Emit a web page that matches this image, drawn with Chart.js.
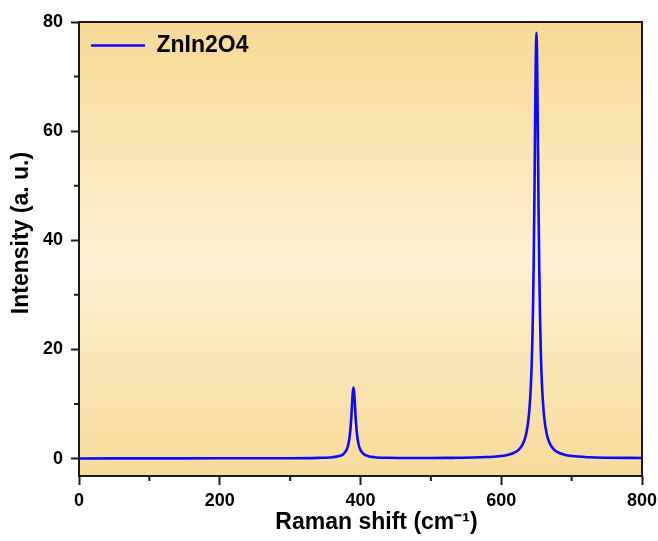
<!DOCTYPE html>
<html>
<head>
<meta charset="utf-8">
<script src="https://cdn.jsdelivr.net/npm/chart.js@4.4.1/dist/chart.umd.min.js"></script>
<style>
html,body{margin:0;padding:0;background:#fff;}
#wrap{width:658px;height:541px;position:relative;}
</style>
</head>
<body>
<div id="wrap"><canvas id="c" width="658" height="541"></canvas></div>
<script>
// Data
const seriesName = 'ZnIn2O4';
const ramanShift = [0,100,200,300,340,360,370,375,380,382,384,385,386,387,388,389,390,391,392,393,394,395,396,398,400,405,410,420,440,470,500,530,560,580,600,610,620,625,630,634,636,638,640,642,643,644,645,646,647,648,649,650,651,652,653,654,655,656,657,658,660,662,664,666,670,675,680,690,700,725,750,800];
const intensity  = [0.02,0.03,0.04,0.06,0.13,0.25,0.47,0.76,1.55,2.25,3.5,4.5,5.9,7.7,10.0,12.1,13.0,12.1,10.0,7.7,5.9,4.5,3.5,2.25,1.55,0.78,0.48,0.25,0.14,0.1,0.1,0.13,0.18,0.27,0.45,0.68,1.16,1.64,2.5,3.8,4.9,6.5,9.0,13.1,16.3,20.6,26.6,34.9,46.0,59.6,72.4,78.0,72.4,59.6,46.0,34.9,26.6,20.6,16.3,13.1,9.0,6.5,4.9,3.8,2.5,1.64,1.16,0.68,0.45,0.23,0.15,0.1];
const xTickLabels = [0,200,400,600,800];
const yTickLabels = [0,20,40,60,80];

const points = ramanShift.map((x,i)=>({x:x,y:intensity[i]}));

const bgPlugin = {
  id:'bgGrad',
  afterLayout(chart){
    // place the in-plot legend relative to the plot area
    if (chart.legend) {
      const h = chart.legend.height;
      chart.legend.top = chart.chartArea.top;
      chart.legend.bottom = chart.chartArea.top + h;
    }
  },
  beforeDraw(chart){
    const {ctx, chartArea:a} = chart;
    const g = ctx.createLinearGradient(0,a.top,0,a.bottom);
    g.addColorStop(0,'#f8d995');
    g.addColorStop(0.52,'#fdf0d0');
    g.addColorStop(1,'#f8da9a');
    ctx.save();
    ctx.fillStyle = g;
    ctx.fillRect(a.left,a.top,a.right-a.left,a.bottom-a.top);
    ctx.restore();
  },
  afterDatasetsDraw(chart){
    const {ctx, chartArea:a, scales} = chart;
    ctx.save();
    ctx.strokeStyle = '#1a1a1a';
    ctx.lineWidth = 2;
    ctx.strokeRect(a.left,a.top,a.right-a.left,a.bottom-a.top);
    // minor ticks
    ctx.beginPath();
    scales.x.ticks.forEach(t=>{
      if (!xTickLabels.includes(t.value)) {
        const px = scales.x.getPixelForValue(t.value);
        ctx.moveTo(px,a.bottom); ctx.lineTo(px,a.bottom+5);
      }
    });
    scales.y.ticks.forEach(t=>{
      if (!yTickLabels.includes(t.value)) {
        const py = scales.y.getPixelForValue(t.value);
        ctx.moveTo(a.left,py); ctx.lineTo(a.left-5,py);
      }
    });
    ctx.stroke();
    ctx.restore();
  }
};

const fontFam = '"Liberation Sans", Arial, Helvetica, sans-serif';

new Chart(document.getElementById('c'), {
  type:'line',
  data:{datasets:[{
    label: seriesName,
    data: points,
    borderColor:'#0a0aff',
    backgroundColor:'#0a0aff',
    borderWidth:2.6,
    pointRadius:0,
    tension:0,
    cubicInterpolationMode:'monotone',
    fill:false
  }]},
  options:{
    responsive:false,
    animation:false,
    layout:{padding:{left:0,right:16,top:22,bottom:0}},
    plugins:{
      legend:{
        position:'chartArea',
        align:'start',
        labels:{
          boxWidth:54,
          boxHeight:2.5,
          color:'#000',
          font:{family:fontFam,size:23,weight:'bold'},
          padding:12,
          generateLabels:(chart)=> Chart.defaults.plugins.legend.labels.generateLabels(chart).map(it=>Object.assign(it,{lineWidth:0}))
        }
      },
      tooltip:{enabled:false}
    },
    scales:{
      x:{
        type:'linear',
        min:0,max:800,
        afterFit(s){ s.height = 65; s.paddingLeft = 0; s.paddingRight = 0; },
        border:{display:false},
        grid:{drawOnChartArea:false,drawTicks:true,tickLength:9,tickWidth:2,
          tickColor:(c)=> xTickLabels.includes(c.tick && c.tick.value) ? '#1a1a1a' : 'rgba(0,0,0,0)'},
        ticks:{stepSize:100,includeBounds:false,color:'#000',padding:5,maxRotation:0,autoSkip:false,
          font:{family:fontFam,size:18,weight:'bold'},
          callback:(v)=> xTickLabels.includes(v) ? String(v) : ''},
        title:{display:true,text:'\u00a0\u00a0\u00a0\u00a0\u00a0Raman shift (cm\u207b\u00b9)',color:'#000',
          font:{family:fontFam,size:23,weight:'bold',lineHeight:1.2},padding:{top:0,bottom:5}}
      },
      y:{
        type:'linear',
        min:-3.2,max:80,
        afterFit(s){ s.width = 79; s.paddingTop = 0; s.paddingBottom = 0; },
        border:{display:false},
        grid:{drawOnChartArea:false,drawTicks:true,tickLength:8,tickWidth:2,
          tickColor:(c)=> yTickLabels.includes(c.tick && c.tick.value) ? '#1a1a1a' : 'rgba(0,0,0,0)'},
        ticks:{stepSize:10,includeBounds:false,color:'#000',padding:8,autoSkip:false,
          font:{family:fontFam,size:18,weight:'bold'},
          callback:(v)=> yTickLabels.includes(v) ? String(v) : ''},
        title:{display:true,text:'\u00a0\u00a0\u00a0\u00a0\u00a0Intensity (a. u.)',color:'#000',
          font:{family:fontFam,size:23,weight:'bold',lineHeight:1.2},padding:{top:8,bottom:0}}
      }
    }
  },
  plugins:[bgPlugin]
});
</script>
</body>
</html>
